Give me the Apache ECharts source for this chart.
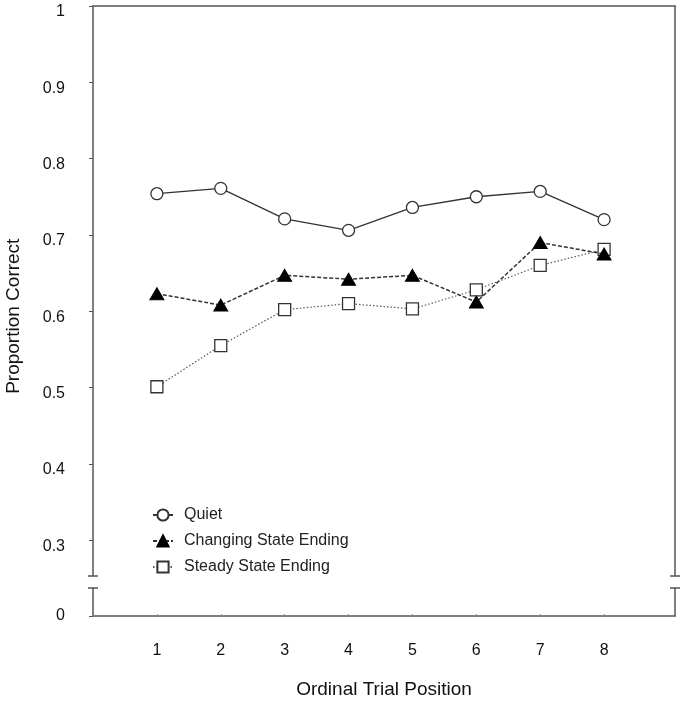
<!DOCTYPE html>
<html>
<head>
<meta charset="utf-8">
<script src="https://cdn.jsdelivr.net/npm/echarts@6/dist/echarts.min.js"></script>
<style>html,body{margin:0;padding:0;background:#fff}#c{width:685px;height:703px}</style>
</head>
<body>
<div id="c"></div>
<script>
const positions = [1, 2, 3, 4, 5, 6, 7, 8];
const quiet = [0.754, 0.761, 0.721, 0.706, 0.736, 0.750, 0.757, 0.720];
const changing = [0.623, 0.608, 0.647, 0.642, 0.647, 0.612, 0.690, 0.675];
const steady = [0.501, 0.555, 0.602, 0.610, 0.603, 0.628, 0.660, 0.681];
const seriesNames = ['Quiet', 'Changing State Ending', 'Steady State Ending'];
const yTicksUpper = [0.3, 0.4, 0.5, 0.6, 0.7, 0.8, 0.9, 1];
const yTicksLower = [0];
const xTitle = 'Ordinal Trial Position';
const yTitle = 'Proportion Correct';

const FONT = 'Liberation Sans, Arial, sans-serif';
const AX = '#555';
const upperMin = 0.253, upperMax = 1;
const lowerMin = 0, lowerMax = 0.0367;
const xMin = 0, xMax = 9.11;

const chart = echarts.init(document.getElementById('c'));
const lineAxis = {lineStyle: {color: AX, width: 1.5}};
function pairs(v) { return positions.map((p, i) => [p, v[i]]); }

const option = {
  animation: false,
  backgroundColor: '#fff',
  textStyle: {fontFamily: FONT},
  grid: [
    {left: 93, right: 10, top: 6, height: 570},
    {left: 93, right: 10, top: 588, height: 28}
  ],
  xAxis: [
    {gridIndex: 0, type: 'value', min: xMin, max: xMax, position: 'top',
     axisLine: lineAxis, axisTick: {show: false}, axisLabel: {show: false}, splitLine: {show: false}},
    {gridIndex: 1, type: 'value', min: xMin, max: xMax, position: 'bottom',
     axisLine: lineAxis,
     axisTick: {show: true, inside: true, length: 2, customValues: [0].concat(positions), lineStyle: {color: '#888'}},
     axisLabel: {customValues: positions, fontSize: 16, color: '#111', margin: 27, fontFamily: FONT},
     splitLine: {show: false},
     name: xTitle, nameLocation: 'middle', nameGap: 64,
     nameTextStyle: {fontSize: 19, color: '#111', fontFamily: FONT}}
  ],
  yAxis: [
    {gridIndex: 0, type: 'value', min: upperMin, max: upperMax, position: 'left',
     axisLine: {show: true, lineStyle: {color: AX, width: 1.5}},
     axisTick: {show: true, length: 4, customValues: yTicksUpper, lineStyle: {color: AX}},
     axisLabel: {customValues: yTicksUpper, fontSize: 16, color: '#111', margin: 28, fontFamily: FONT,
                 verticalAlign: 'top', lineHeight: 12,
                 formatter: v => String(+(+v).toFixed(1))},
     splitLine: {show: false}},
    {gridIndex: 0, type: 'value', min: upperMin, max: upperMax, position: 'right',
     axisLine: {show: true, lineStyle: {color: AX, width: 1.5}},
     axisTick: {show: false}, axisLabel: {show: false}, splitLine: {show: false}},
    {gridIndex: 1, type: 'value', min: lowerMin, max: lowerMax, position: 'left',
     axisLine: {show: true, lineStyle: {color: AX, width: 1.5}},
     axisTick: {show: true, length: 4, customValues: yTicksLower, lineStyle: {color: AX}},
     axisLabel: {customValues: yTicksLower, fontSize: 16, color: '#111', margin: 28, fontFamily: FONT},
     splitLine: {show: false}},
    {gridIndex: 1, type: 'value', min: lowerMin, max: lowerMax, position: 'right',
     axisLine: {show: true, lineStyle: {color: AX, width: 1.5}},
     axisTick: {show: false}, axisLabel: {show: false}, splitLine: {show: false}}
  ],
  legend: {
    orient: 'vertical', left: 147, top: 502, itemWidth: 20, itemHeight: 14, itemGap: 10,
    textStyle: {fontSize: 16, color: '#222', fontFamily: FONT, padding: [0, 0, 0, 6]},
    data: seriesNames
  },
  series: [
    {name: seriesNames[0], type: 'line', xAxisIndex: 0, yAxisIndex: 0, data: pairs(quiet),
     symbol: 'circle', symbolSize: 12,
     lineStyle: {color: '#333', width: 1.3},
     itemStyle: {color: '#fff', borderColor: '#333', borderWidth: 1.3}, z: 3},
    {name: seriesNames[1], type: 'line', xAxisIndex: 0, yAxisIndex: 0, data: pairs(changing),
     symbol: 'triangle', symbolSize: [14, 12],
     lineStyle: {color: '#333', width: 1.5, type: [4, 2]},
     itemStyle: {color: '#000', borderColor: '#000', borderWidth: 1}, z: 4},
    {name: seriesNames[2], type: 'line', xAxisIndex: 0, yAxisIndex: 0, data: pairs(steady),
     symbol: 'rect', symbolSize: 12,
     lineStyle: {color: '#555', width: 1.2, type: [1.5, 2]},
     itemStyle: {color: '#fff', borderColor: '#333', borderWidth: 1.3}, z: 3}
  ]
};
chart.setOption(option);

// break caps and rotated y title
const pTopBreakL = chart.convertToPixel({xAxisIndex: 0, yAxisIndex: 0}, [xMin, upperMin]);
const pTopBreakR = chart.convertToPixel({xAxisIndex: 0, yAxisIndex: 0}, [xMax, upperMin]);
const pLowBreakL = chart.convertToPixel({xAxisIndex: 1, yAxisIndex: 2}, [xMin, lowerMax]);
const pLowBreakR = chart.convertToPixel({xAxisIndex: 1, yAxisIndex: 2}, [xMax, lowerMax]);
const pMid1 = chart.convertToPixel({xAxisIndex: 0, yAxisIndex: 0}, [xMin, 0.6]);
function cap(p) {
  return {type: 'line', shape: {x1: p[0] - 5, y1: p[1], x2: p[0] + 5, y2: p[1]},
          style: {stroke: AX, lineWidth: 1.5}, z: 10};
}
chart.setOption({
  graphic: [
    cap(pTopBreakL), cap(pTopBreakR), cap(pLowBreakL), cap(pLowBreakR),
    {type: 'text', x: 14, y: pMid1[1] + 5, rotation: Math.PI / 2,
     style: {text: yTitle, font: '19px ' + FONT, fill: '#111', align: 'center', verticalAlign: 'middle'}}
  ]
});
</script>
</body>
</html>
